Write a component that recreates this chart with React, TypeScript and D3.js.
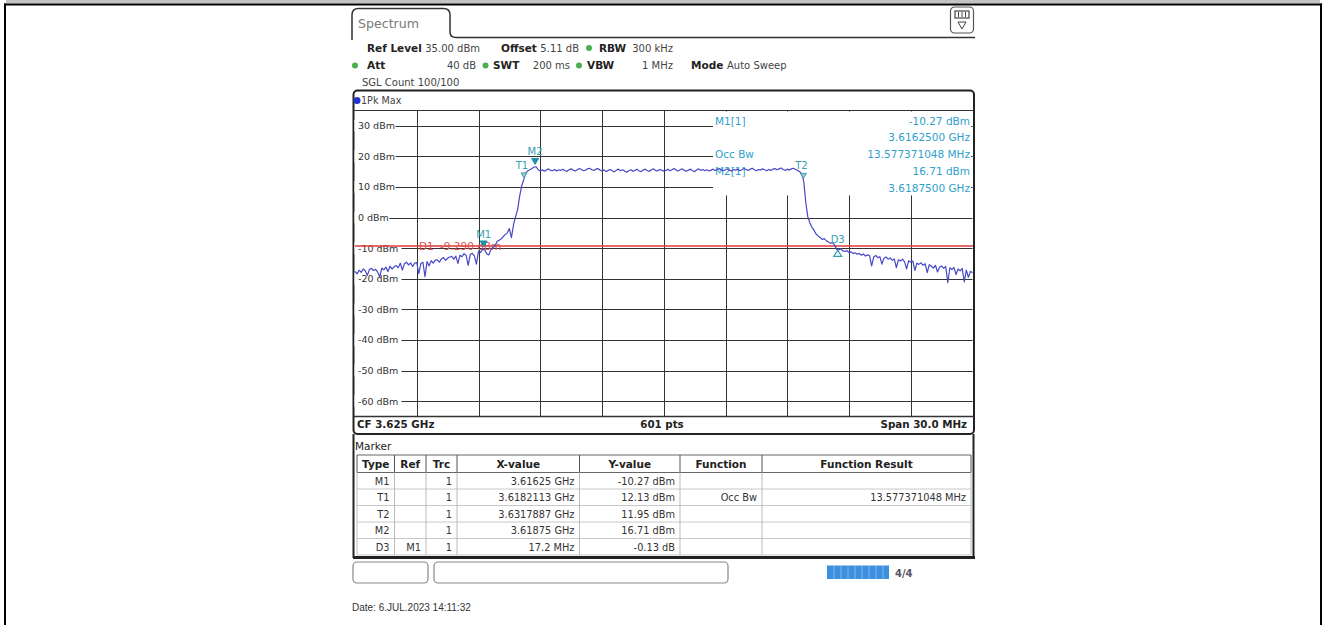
import React from 'react';
import * as d3 from 'd3';

const startMHz = 3610;
const stepMHz = 0.1;
const traceLevels = [
  -17.6,-18.4,-17.2,-17.9,-16.8,-17.4,-18.9,-17.0,-16.6,-17.3,
  -16.9,-17.8,-19.4,-16.5,-17.1,-16.2,-17.6,-15.9,-16.8,-16.1,
  -15.7,-16.4,-14.9,-17.2,-15.1,-14.6,-15.5,-14.8,-16.0,-14.9,
  -14.7,-18.3,-15.0,-14.6,-19.3,-14.4,-15.8,-14.1,-14.9,-13.9,
  -13.8,-14.6,-13.5,-13.1,-14.0,-13.3,-12.9,-12.7,-13.6,-12.6,
  -15.0,-12.3,-12.8,-11.8,-12.4,-15.6,-12.0,-11.7,-12.5,-15.2,
  -11.0,-11.4,-10.3,-10.6,-11.8,-12.2,-10.5,-9.8,-9.4,-7.8,
  -7.4,-7.0,-6.2,-5.6,-5.0,-3.6,-6.6,-2.4,0.2,2.6,
  7.0,10.4,12.4,14.6,15.3,15.6,16.0,16.5,16.6,15.6,
  15.2,15.6,15.1,15.5,15.9,15.4,15.3,15.7,15.2,15.6,
  15.4,15.8,15.3,15.1,15.6,15.9,15.5,15.2,15.6,16.0,
  15.7,15.3,15.5,15.9,16.1,15.6,15.4,15.8,16.0,15.5,
  15.2,15.6,15.0,15.4,15.7,15.3,14.9,15.5,15.8,15.3,
  15.6,15.2,14.8,15.3,15.6,15.1,15.4,15.8,15.2,15.0,
  15.5,15.8,15.3,15.1,15.6,15.9,15.4,15.2,15.7,15.5,
  15.1,15.4,15.8,15.3,15.6,16.0,15.5,15.2,15.6,15.9,
  15.4,15.1,15.5,15.8,15.3,15.0,15.6,15.9,15.4,15.7,
  15.3,15.6,15.2,15.5,15.8,15.4,15.7,16.0,15.5,15.3,
  15.6,15.9,15.4,15.2,15.7,15.5,15.8,15.3,15.6,16.0,
  15.7,15.4,15.8,16.1,15.6,15.3,15.7,15.5,15.9,15.6,
  15.3,15.7,15.4,15.8,16.0,15.6,15.9,16.2,15.7,15.4,
  15.8,15.5,15.9,16.1,15.7,15.4,15.0,14.3,11.9,5.0,
  0.2,-1.8,-3.2,-4.2,-5.4,-6.0,-6.5,-7.2,-6.9,-7.6,
  -8.0,-8.4,-8.2,-9.0,-10.4,-10.6,-10.2,-10.9,-11.1,-10.8,
  -11.4,-11.2,-11.8,-11.5,-12.0,-11.7,-12.3,-11.9,-12.6,-12.2,
  -12.5,-15.8,-12.9,-12.4,-13.1,-12.8,-15.2,-13.3,-12.9,-13.6,
  -13.2,-14.0,-13.5,-16.4,-13.8,-14.2,-13.6,-14.5,-16.8,-14.1,
  -14.6,-14.2,-17.3,-14.9,-15.3,-14.8,-15.6,-15.1,-18.0,-15.4,
  -15.9,-16.5,-15.6,-17.8,-16.2,-15.8,-16.6,-16.0,-21.3,-16.4,
  -17.0,-16.3,-18.6,-16.8,-17.4,-16.6,-21.0,-17.2,-19.5,-17.6,
  -18.0,
];

const freqDomainMHz = [3610, 3640];
const levelDomain = [-65, 35];
const yTickValues = [30, 20, 10, 0, -10, -20, -30, -40, -50, -60];
const xGridMHz = [3613, 3616, 3619, 3622, 3625, 3628, 3631, 3634, 3637];
const displayLineDbm = -9.29;
const displayLineLabel = ['D1', '-9.290 dBm'];

const markerNames = ['M1', 'T1', 'T2', 'M2', 'D3'];
const markerFreqMHz = [3616.25, 3618.2113, 3631.7887, 3618.75, 3633.45];
const markerLevels = [-10.27, 12.13, 11.95, 16.71, -10.4];
const markerKinds = ['M', 'T', 'T', 'M', 'D'];

const infoLeft = ['M1[1]', '', 'Occ Bw', 'M2[1]', ''];
const infoRight = ['-10.27 dBm', '3.6162500 GHz', '13.577371048 MHz', '16.71 dBm', '3.6187500 GHz'];

const tableHeaders = ['Type', 'Ref', 'Trc', 'X-value', 'Y-value', 'Function', 'Function Result'];
const tableType = ['M1', 'T1', 'T2', 'M2', 'D3'];
const tableRef = ['', '', '', '', 'M1'];
const tableTrc = ['1', '1', '1', '1', '1'];
const tableX = ['3.61625 GHz', '3.6182113 GHz', '3.6317887 GHz', '3.61875 GHz', '17.2 MHz'];
const tableY = ['-10.27 dBm', '12.13 dBm', '11.95 dBm', '16.71 dBm', '-0.13 dB'];
const tableFunc = ['', 'Occ Bw', '', '', ''];
const tableResult = ['', '13.577371048 MHz', '', '', ''];

const F = "'DejaVu Sans', Verdana, sans-serif";
const INFO = '#2f9fcc';
const MK = '#3a9db0';
const TRACE = '#4848c8';

export default function App() {
  const x = d3.scaleLinear().domain(freqDomainMHz).range([355, 972.5]);
  const y = d3.scaleLinear().domain(levelDomain).range([416.5, 110.4]);
  const line = d3
    .line<number>()
    .x((_, i) => x(startMHz + i * stepMHz))
    .y((d) => y(d));
  const tracePath = line(traceLevels) || '';

  const colEdges = [357, 394.5, 426, 457, 579.5, 680, 762, 971];
  const headTop = 455;
  const headBot = 472.5;
  const rowH = 16.5;

  const cells = [tableType, tableRef, tableTrc, tableX, tableY, tableFunc, tableResult];

  return (
    <div style={{ position: 'absolute', left: 0, top: 0 }}>
      <svg width={1322} height={625} style={{ display: 'block', background: '#fff' }}>
        {/* page frame */}
        <rect x={6} y={0} width={1314} height={3.5} fill="#c3c3c3" />
        <rect x={4} y={3.5} width={1318} height={2} fill="#000" />
        <rect x={4} y={3.5} width={2} height={622} fill="#000" />
        <rect x={1320} y={3.5} width={2} height={622} fill="#000" />

        {/* tab */}
        <path d="M352,40 L352,15 Q352,8.5 358.5,8.5 L443.5,8.5 Q450,8.5 450,15 L450,32 Q450,37.5 456,37.5 L975,37.5"
          fill="none" stroke="#333" strokeWidth={1.5} />
        <text x={358} y={28} fontFamily={F} fontSize={12.6} fill="#7a7a7a">Spectrum</text>
        <rect x={950.5} y={7} width={23} height={26} rx={4} fill="#fff" stroke="#555" strokeWidth={1.2} />
        <rect x={955} y={11} width={14} height={7} fill="#fff" stroke="#444" strokeWidth={1.2} />
        <line x1={958.5} y1={12} x2={958.5} y2={17} stroke="#444" />
        <line x1={962} y1={12} x2={962} y2={17} stroke="#444" />
        <line x1={965.5} y1={12} x2={965.5} y2={17} stroke="#444" />
        <path d="M958,22 L966,22 L962,29 Z" fill="none" stroke="#444" strokeWidth={1} />

        {/* header settings */}
        <g fontFamily={F} fontSize={10} fill="#444">
          <text x={367} y={51.5} fontWeight="bold" fontSize={10.5} fill="#222">Ref Level</text>
          <text x={480} y={51.5} textAnchor="end">35.00 dBm</text>
          <text x={501} y={51.5} fontWeight="bold" fontSize={10.5} fill="#222">Offset</text>
          <text x={579} y={51.5} textAnchor="end">5.11 dB</text>
          <circle cx={589} cy={48} r={3} fill="#4caf50" />
          <text x={599} y={51.5} fontWeight="bold" fontSize={10.5} fill="#222">RBW</text>
          <text x={673} y={51.5} textAnchor="end">300 kHz</text>

          <circle cx={355} cy={65.5} r={3} fill="#4caf50" />
          <text x={367} y={69} fontWeight="bold" fontSize={10.5} fill="#222">Att</text>
          <text x={476} y={69} textAnchor="end">40 dB</text>
          <circle cx={485.5} cy={65.5} r={3} fill="#4caf50" />
          <text x={493} y={69} fontWeight="bold" fontSize={10.5} fill="#222">SWT</text>
          <text x={570} y={69} textAnchor="end">200 ms</text>
          <circle cx={579} cy={65.5} r={3} fill="#4caf50" />
          <text x={587} y={69} fontWeight="bold" fontSize={10.5} fill="#222">VBW</text>
          <text x={673} y={69} textAnchor="end">1 MHz</text>
          <text x={691} y={69} fontWeight="bold" fontSize={10.5} fill="#222">Mode</text>
          <text x={727} y={69}>Auto Sweep</text>

          <text x={362} y={85.5}>SGL Count 100/100</text>
        </g>

        {/* diagram frame */}
        <rect x={353.5} y={90.5} width={620.5} height={343.5} rx={4} fill="#fff" stroke="#222" strokeWidth={2} />
        <circle cx={357} cy={100.5} r={3.5} fill="#2233cc" />
        <text x={361} y={104} fontFamily={F} fontSize={9.6} fill="#444">1Pk Max</text>

        {/* grid */}
        <g stroke="#333" strokeWidth={1}>
          {yTickValues.map((v) => (
            <line key={'h' + v} x1={x(freqDomainMHz[0])} x2={x(freqDomainMHz[1])} y1={Math.round(y(v)) + 0.5} y2={Math.round(y(v)) + 0.5} />
          ))}
          {xGridMHz.map((f) => (
            <line key={'v' + f} x1={Math.round(x(f)) + 0.5} x2={Math.round(x(f)) + 0.5} y1={y(levelDomain[1])} y2={y(levelDomain[0])} />
          ))}
          <line x1={353.5} x2={974} y1={110.5} y2={110.5} strokeWidth={1.2} />
          <line x1={353.5} x2={974} y1={416.5} y2={416.5} strokeWidth={1.5} />
        </g>

        {/* info box mask */}
        <rect x={713} y={111.5} width={258} height={84} fill="#fff" />

        {/* y labels */}
        <g fontFamily={F} fontSize={9.5} fill="#333">
          {yTickValues.map((v) => {
            const label = `${v} dBm`;
            const w = label.length * 6.0 + 5;
            return (
              <g key={'l' + v}>
                <rect x={354.5} y={y(v) - 6} width={w} height={12} fill="#fff" />
                <text x={358} y={y(v) + 3.5}>{label}</text>
              </g>
            );
          })}
        </g>

        {/* info text */}
        <g fontFamily={F} fontSize={10.5} fill={INFO}>
          {infoRight.map((t, i) => (
            <g key={'info' + i}>
              {infoLeft[i] && <text x={715} y={124.5 + i * 16.9}>{infoLeft[i]}</text>}
              <text x={970} y={124.5 + i * 16.9} textAnchor="end">{t}</text>
            </g>
          ))}
        </g>

        {/* display line D1 */}
        <line x1={x(freqDomainMHz[0])} x2={973} y1={y(displayLineDbm)} y2={y(displayLineDbm)} stroke="#e03838" strokeWidth={1.6} />
        <text x={419} y={y(displayLineDbm) + 4} fontFamily={F} fontSize={10.5} fill="#dd5050">{displayLineLabel[0]}</text>
        <text x={440} y={y(displayLineDbm) + 4} fontFamily={F} fontSize={10.5} fill="#dd5050">{displayLineLabel[1]}</text>

        {/* trace */}
        <path d={tracePath} fill="none" stroke={TRACE} strokeWidth={1.2} strokeLinejoin="round" />

        {/* markers */}
        <g fontFamily={F} fontSize={10}>
          {markerNames.map((n, i) => {
            const mx = x(markerFreqMHz[i]);
            const my = y(markerLevels[i]);
            const kind = markerKinds[i];
            if (kind === 'M') {
              return (
                <g key={n}>
                  <path d={`M${mx - 3.5},${my - 8} L${mx + 3.5},${my - 8} L${mx},${my - 2} Z`} fill="#1f8ea8" stroke="#1f8ea8" />
                  <text x={mx} y={my - 11} textAnchor="middle" fill={MK}>{n}</text>
                </g>
              );
            }
            if (kind === 'T') {
              return (
                <g key={n}>
                  <path d={`M${mx - 3},${my - 7.5} L${mx + 3},${my - 7.5} L${mx},${my - 2.5} Z`} fill="#9cc8d4" stroke="#4a9db0" strokeWidth={1} />
                  <text x={mx - 2} y={my - 11.5} textAnchor="middle" fill={MK}>{n}</text>
                </g>
              );
            }
            return (
              <g key={n}>
                <path d={`M${mx},${my + 1} L${mx + 4},${my + 7} L${mx - 4},${my + 7} Z`} fill="#fff" stroke="#3a9db0" strokeWidth={1.2} />
                <text x={mx} y={my - 6} textAnchor="middle" fill={MK}>{n}</text>
              </g>
            );
          })}
        </g>

        {/* status row */}
        <g fontFamily={F} fontSize={10.3} fontWeight="bold" fill="#222">
          <text x={357} y={428}>CF 3.625 GHz</text>
          <text x={662} y={428} textAnchor="middle">601 pts</text>
          <text x={967} y={428} textAnchor="end">Span 30.0 MHz</text>
        </g>

        {/* marker table frame */}
        <line x1={353.5} x2={353.5} y1={434} y2={558} stroke="#222" strokeWidth={2} />
        <line x1={973.5} x2={973.5} y1={434} y2={558} stroke="#222" strokeWidth={2} />
        <line x1={353} x2={975} y1={557.5} y2={557.5} stroke="#222" strokeWidth={3} />
        <text x={355} y={450} fontFamily={F} fontSize={10.5} fill="#222">Marker</text>

        {/* table */}
        <g>
          <line x1={colEdges[0]} x2={colEdges[7]} y1={headTop} y2={headTop} stroke="#666" />
          <line x1={colEdges[0]} x2={colEdges[7]} y1={headBot} y2={headBot} stroke="#666" />
          {tableType.map((_, r) => (
            <line key={'rs' + r} x1={colEdges[0]} x2={colEdges[7]} y1={headBot + (r + 1) * rowH} y2={headBot + (r + 1) * rowH} stroke="#c8c8c8" />
          ))}
          {colEdges.map((cx, i) => (
            <g key={'cs' + i}>
              <line x1={cx} x2={cx} y1={headTop} y2={headBot} stroke="#555" />
              <line x1={cx} x2={cx} y1={headBot} y2={headBot + 5 * rowH} stroke="#bbb" />
            </g>
          ))}
          <g fontFamily={F} fontSize={10.5} fontWeight="bold" fill="#222">
            {tableHeaders.map((h, i) => (
              <text key={h} x={(colEdges[i] + colEdges[i + 1]) / 2} y={468} textAnchor="middle">{h}</text>
            ))}
          </g>
          <g fontFamily={F} fontSize={9.8} fill="#333">
            {cells.map((col, c) =>
              col.map((t, r) =>
                t ? (
                  <text key={c + '-' + r} x={colEdges[c + 1] - 5} y={headBot + r * rowH + 12} textAnchor="end">{t}</text>
                ) : null
              )
            )}
          </g>
        </g>

        {/* bottom buttons */}
        <rect x={353} y={562} width={75} height={21} rx={4} fill="#fff" stroke="#888" strokeWidth={1.2} />
        <rect x={434} y={562} width={294} height={21} rx={4} fill="#fff" stroke="#888" strokeWidth={1.2} />
        <rect x={827} y={565.5} width={62} height={13.5} fill="#3d8fe0" />
        {[834, 841, 848, 855, 862, 869, 876, 883].map((bx) => (
          <line key={'b' + bx} x1={bx} x2={bx} y1={566} y2={579} stroke="#8fc0f0" strokeWidth={0.8} />
        ))}
        <text x={895} y={577} fontFamily={F} fontSize={10} fontWeight="bold" fill="#556">4/4</text>

        {/* date */}
        <text x={352} y={611} fontFamily="'Liberation Sans', Arial, sans-serif" fontSize={10} fill="#333">Date: 6.JUL.2023  14:11:32</text>
      </svg>
    </div>
  );
}
